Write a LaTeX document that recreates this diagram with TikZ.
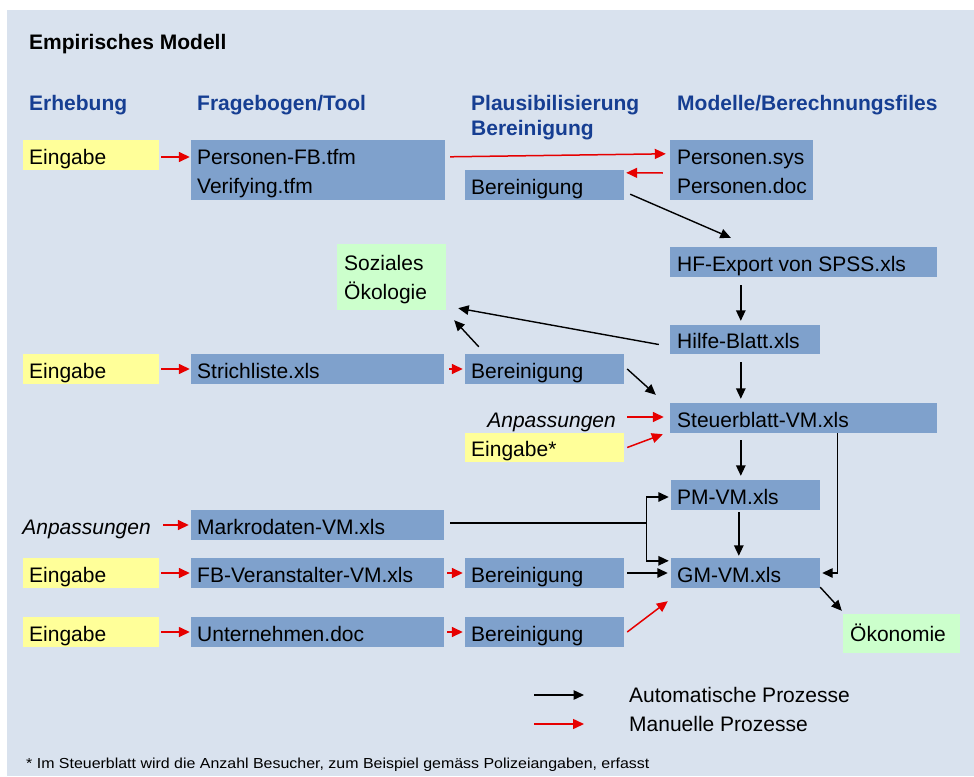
\documentclass[tikz,border=0pt]{standalone}
\usepackage{fontspec}
\setmainfont{Liberation Sans}
\newfontfamily\footfont[FakeStretch=1.1]{Liberation Sans}
\usetikzlibrary{arrows.meta,calc,fit}
\definecolor{panel}{RGB}{217,226,238}
\definecolor{boxblue}{RGB}{127,161,204}
\definecolor{boxyellow}{RGB}{255,255,153}
\definecolor{boxgreen}{RGB}{204,255,204}
\definecolor{headblue}{RGB}{22,62,146}
\definecolor{arrred}{RGB}{230,0,0}
\newcommand\mkbox[6]{\node[#2, fit={(#3,#4) (#5,#6)}] (#1) {};}
\newcommand\mktxt[5]{\node[#2, anchor=base west] (#1) at (#3,#4) {#5};}
\begin{document}
\begin{tikzpicture}[x=1pt,y=-1pt,
  txt/.style={inner sep=0pt, font=\fontsize{21}{24}\selectfont, text=black},
  itxt/.style={inner sep=0pt, font=\fontsize{21}{24}\selectfont\itshape, text=black},
  hdr/.style={inner sep=0pt, font=\fontsize{21}{24}\selectfont\bfseries, text=headblue},
  ttl/.style={inner sep=0pt, font=\fontsize{21}{24}\selectfont\bfseries, text=black},
  foot/.style={inner sep=0pt, font=\footfont\fontsize{14.5}{17}\selectfont, text=black},
  bluebox/.style={inner sep=0pt, draw=none, fill=boxblue},
  yelbox/.style={inner sep=0pt, draw=none, fill=boxyellow},
  grnbox/.style={inner sep=0pt, draw=none, fill=boxgreen},
  autoarr/.style={line width=1.4pt, black, -{Triangle[length=10.5pt,width=9.5pt]}},
  manarr/.style={line width=1.5pt, arrred, -{Triangle[length=11pt,width=10pt]}},
  plainline/.style={line width=1.4pt, black},
]
\useasboundingbox (0,0) rectangle (974,776);
\fill[white] (0,0) rectangle (974,776);
\fill[panel] (7,10) rectangle (974,776);

% title and headers
\mktxt{title}{ttl}{29}{50}{Empirisches Modell}
\mktxt{h1}{hdr}{29}{110}{Erhebung}
\mktxt{h2}{hdr}{197}{110}{Fragebogen/Tool}
\mktxt{h3a}{hdr}{471}{110}{Plausibilisierung}
\mktxt{h3b}{hdr}{471}{135}{Bereinigung}
\mktxt{h4}{hdr}{677}{110}{Modelle/Berechnungsfiles}

% row 1
\mkbox{e1}{yelbox}{23}{140}{159}{170}
\mktxt{e1t}{txt}{29}{164}{Eingabe}
\mkbox{pfb}{bluebox}{191}{140}{445}{200}
\mktxt{pfbt1}{txt}{197}{164}{Personen-FB.tfm}
\mktxt{pfbt2}{txt}{197}{193}{Verifying.tfm}
\mkbox{ber1}{bluebox}{465}{170}{624}{200}
\mktxt{ber1t}{txt}{471}{194}{Bereinigung}
\mkbox{psys}{bluebox}{670}{140}{813}{200}
\mktxt{psyst1}{txt}{677}{164}{Personen.sys}
\mktxt{psyst2}{txt}{677}{193}{Personen.doc}

% HF export, Soziales, Hilfe
\mkbox{hf}{bluebox}{670}{247}{937}{277}
\mktxt{hft}{txt}{677}{271}{HF-Export von SPSS.xls}
\mkbox{soz}{grnbox}{337}{244}{446}{310}
\mktxt{sozt1}{txt}{344}{270}{Soziales}
\mktxt{sozt2}{txt}{344}{299}{Ökologie}
\mkbox{hilfe}{bluebox}{670}{325}{820}{354}
\mktxt{hilfet}{txt}{677}{348}{Hilfe-Blatt.xls}

% row 2
\mkbox{e2}{yelbox}{23}{354}{159}{384}
\mktxt{e2t}{txt}{29}{378}{Eingabe}
\mkbox{strich}{bluebox}{191}{354}{444}{384}
\mktxt{stricht}{txt}{197}{378}{Strichliste.xls}
\mkbox{ber2}{bluebox}{465}{354}{624}{384}
\mktxt{ber2t}{txt}{471}{378}{Bereinigung}

% Steuerblatt
\mkbox{steuer}{bluebox}{670}{403}{937}{433}
\mktxt{steuert}{txt}{677}{427}{Steuerblatt-VM.xls}
\node[itxt, anchor=base east] (anp2) at (616,427) {Anpassungen};
\mkbox{estar}{yelbox}{465}{433}{624}{462}
\mktxt{estart}{txt}{471}{456}{Eingabe*}

% PM, Markrodaten
\mkbox{pm}{bluebox}{671}{480}{820}{510}
\mktxt{pmt}{txt}{677}{504}{PM-VM.xls}
\node[itxt, anchor=base east] (anp3) at (151,534) {Anpassungen};
\mkbox{mark}{bluebox}{191}{510}{444}{540}
\mktxt{markt}{txt}{197}{534}{Markrodaten-VM.xls}

% row 3
\mkbox{e3}{yelbox}{23}{558}{159}{588}
\mktxt{e3t}{txt}{29}{582}{Eingabe}
\mkbox{fbv}{bluebox}{191}{558}{444}{588}
\mktxt{fbvt}{txt}{197}{582}{FB-Veranstalter-VM.xls}
\mkbox{ber3}{bluebox}{465}{558}{624}{588}
\mktxt{ber3t}{txt}{471}{582}{Bereinigung}
\mkbox{gm}{bluebox}{671}{558}{820}{588}
\mktxt{gmt}{txt}{677}{582}{GM-VM.xls}
\mkbox{oek}{grnbox}{843}{614}{960}{653}
\mktxt{oekt}{txt}{850}{641}{Ökonomie}

% row 4
\mkbox{e4}{yelbox}{23}{617}{159}{647}
\mktxt{e4t}{txt}{29}{641}{Eingabe}
\mkbox{unt}{bluebox}{191}{617}{444}{647}
\mktxt{untt}{txt}{197}{641}{Unternehmen.doc}
\mkbox{ber4}{bluebox}{465}{617}{624}{647}
\mktxt{ber4t}{txt}{471}{641}{Bereinigung}

% legend and footnote
\mktxt{leg1}{txt}{629}{702}{Automatische Prozesse}
\mktxt{leg2}{txt}{629}{731}{Manuelle Prozesse}
\mktxt{fn}{foot}{26}{768}{* Im Steuerblatt wird die Anzahl Besucher, zum Beispiel gemäss Polizeiangaben, erfasst}
\coordinate (la1) at (534,695);
\coordinate (la2) at (584,695);
\coordinate (lb1) at (534,724);
\coordinate (lb2) at (584,724);
\draw[autoarr] (la1) -- (la2);
\draw[manarr] (lb1) -- (lb2);

% connectors
\draw[manarr] ($(e1.east)+(2,2)$) -- ($(pfb.west |- e1.east)+(-1,2)$);
\draw[manarr] ($(pfb.north east)+(5,17)$) -- ($(psys.north west)+(-4,14)$);
\draw[manarr] ($(psys.west)+(-7,3)$) -- ($(ber1.north east)+(2,3)$);
\draw[autoarr] ($(ber1.south east)+(6,-6)$) -- ($(hf.north west)+(61,-9)$);
\draw[autoarr] ($(hf.south west)+(71,8)$) -- ($(hilfe.north west)+(71,-4)$);
\draw[autoarr] ($(hilfe.west)+(-11,5)$) -- ($(soz.south east)+(12,-2)$);
\draw[autoarr] ($(ber2.north west)+(14,-7)$) -- ($(soz.south east)+(8,10)$);
\draw[autoarr] ($(hilfe.south west)+(71,8)$) -- ($(steuer.north west)+(71,-4)$);
\draw[autoarr] ($(ber2.east)+(3,0)$) -- ($(steuer.north west)+(-14,-8)$);
\draw[manarr] ($(anp2.east |- steuer.west)+(11,-1)$) -- ($(steuer.west)+(-6,-1)$);
\draw[manarr] ($(estar.east)+(3,0)$) -- ($(steuer.south west)+(-7,1)$);
\draw[autoarr] ($(steuer.south west)+(71,7)$) -- ($(pm.north west)+(70,-4)$);
\draw[autoarr] ($(steuer.south east)+(-100,0)$) |- ($(gm.east)+(2,0)$);
\coordinate (mj) at ($(mark.east)+(202,-2)$);
\draw[plainline] ($(mark.east)+(6,-2)$) -- (mj);
\draw[autoarr] (mj) |- ($(pm.west)+(-2,2)$);
\draw[autoarr] (mj) |- ($(gm.north west)+(-2,3)$);
\draw[autoarr] ($(pm.south west)+(68,2)$) -- ($(gm.north west)+(68,-2)$);
\draw[autoarr] ($(ber3.east)+(3,0)$) -- ($(gm.west)+(-3,0)$);
\draw[autoarr] ($(gm.south east)+(0,-1)$) -- ($(oek.north west)+(-1,-3)$);
\draw[manarr] ($(ber4.east)+(3,0)$) -- ($(gm.south west)+(-3,13)$);
\draw[manarr] ($(e2.east)+(2,0)$) -- ($(strich.west)+(-1,0)$);
\draw[manarr] ($(strich.east)+(5,0)$) -- ($(ber2.west)+(-2,0)$);
\draw[manarr] ($(anp3.east |- mark.west)+(12,0)$) -- ($(mark.west)+(-2,0)$);
\draw[manarr] ($(e3.east)+(2,0)$) -- ($(fbv.west)+(-1,0)$);
\draw[manarr] ($(fbv.east)+(3,0)$) -- ($(ber3.west)+(-2,0)$);
\draw[manarr] ($(e4.east)+(2,0)$) -- ($(unt.west)+(-1,0)$);
\draw[manarr] ($(unt.east)+(3,0)$) -- ($(ber4.west)+(-2,0)$);
\end{tikzpicture}
\end{document}
